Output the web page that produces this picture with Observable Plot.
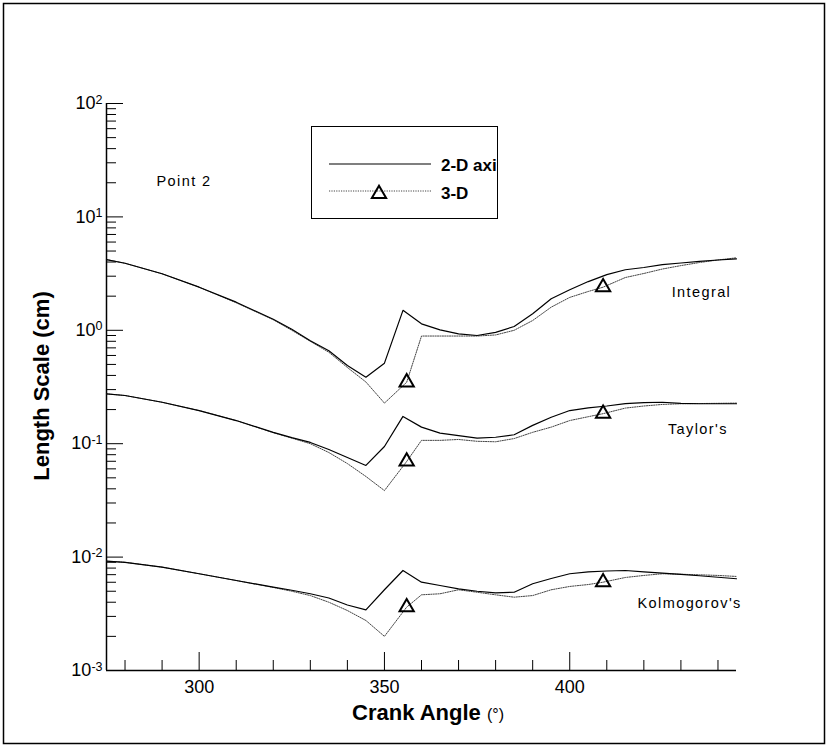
<!DOCTYPE html>
<html><head><meta charset="utf-8">
<script src="https://cdn.jsdelivr.net/npm/d3@7"></script>
<script src="https://cdn.jsdelivr.net/npm/@observablehq/plot@0.6"></script>
<style>
body{margin:0;background:#fff}
#chart{width:828px;height:747px}
</style>
</head><body><div id="chart"></div>
<script>
// ---- data ----
const angles2D = [275,280,290,300,310,320,325,330,335,340,345,350,355,360,365,370,375,380,385,390,395,400,405,410,415,420,425,430,435,440,445];
const angles3D = [275,280,290,300,310,320,325,330,335,340,345,350,356,360,365,370,375,380,385,390,395,400,405,409,415,420,425,430,435,440,445];

const integral2D = [4.2,3.9,3.15,2.40,1.77,1.25,1.02,0.81,0.66,0.49,0.386,0.513,1.50,1.14,1.01,0.93,0.90,0.96,1.08,1.40,1.90,2.28,2.69,3.10,3.42,3.58,3.79,3.92,4.05,4.17,4.27];
const integral3D = [4.2,3.9,3.15,2.40,1.75,1.24,1.0,0.80,0.64,0.47,0.35,0.228,0.348,0.89,0.89,0.89,0.89,0.91,1.00,1.22,1.60,1.95,2.20,2.40,2.92,3.17,3.47,3.72,3.96,4.17,4.36];

const taylor2D = [0.275,0.266,0.232,0.196,0.160,0.126,0.113,0.1026,0.0889,0.0755,0.0643,0.0944,0.174,0.140,0.124,0.118,0.112,0.114,0.120,0.145,0.171,0.196,0.207,0.215,0.226,0.230,0.232,0.227,0.225,0.225,0.225];
const taylor3D = [0.275,0.266,0.232,0.196,0.160,0.125,0.112,0.100,0.0836,0.0668,0.0514,0.0386,0.0697,0.107,0.107,0.109,0.105,0.104,0.111,0.126,0.140,0.160,0.173,0.184,0.206,0.215,0.222,0.225,0.226,0.227,0.228];

const kolmo2D = [0.0092,0.0090,0.00815,0.00713,0.00622,0.00543,0.0051,0.00475,0.00436,0.00378,0.00343,0.00515,0.00762,0.00601,0.00562,0.00525,0.00500,0.00484,0.00490,0.00582,0.00648,0.00713,0.00740,0.00754,0.00762,0.00741,0.00721,0.00703,0.00685,0.00664,0.00644];
const kolmo3D = [0.0092,0.0090,0.00815,0.00713,0.00622,0.00540,0.0050,0.00458,0.00400,0.00338,0.00276,0.00200,0.00362,0.00465,0.00475,0.00515,0.00490,0.00465,0.00443,0.00458,0.00515,0.00551,0.00573,0.00601,0.00661,0.00689,0.00713,0.00706,0.00698,0.00689,0.00675];

const markerAngles = [356, 409];

const xMajorTicks = [300, 350, 400];
const xMinorTicks = [280,290,310,320,330,340,360,370,380,390,410,420,430,440];
const yMajorTicks = [1e-3, 1e-2, 1e-1, 1e0, 1e1, 1e2];

const curveNames = ["Integral", "Taylor's", "Kolmogorov's"];
const labelAngles = [427.5, 426.5, 418.3];
const labelValues = [2.15, 0.133, 0.0039];
const pointLabel = {text: "Point 2", angle: 288.5, value: 20.5};

const legendLabels = ["2-D axi", "3-D"];
const xTitle = "Crank Angle";
const xUnit = "(°)";
const yTitle = "Length Scale (cm)";

// ---- build tables ----
const series2D = [integral2D, taylor2D, kolmo2D];
const series3D = [integral3D, taylor3D, kolmo3D];
const data2D = series2D.flatMap((vals, i) => vals.map((v, j) => ({angle: angles2D[j], value: v, curve: curveNames[i]})));
const data3D = series3D.flatMap((vals, i) => vals.map((v, j) => ({angle: angles3D[j], value: v, curve: curveNames[i]})));
const markers = data3D.filter(d => markerAngles.includes(d.angle));
const yMinorTicks = [];
for (let e = -3; e < 2; e++) for (let m = 2; m <= 9; m++) yMinorTicks.push(m * Math.pow(10, e));
const labels = curveNames.map((n, i) => ({text: n, angle: labelAngles[i], value: labelValues[i]}));
labels.push(pointLabel);

const W = 828, H = 747, mL = 106, mR = 92, mT = 103, mB = 77;
const plotW = W - mL - mR, plotH = H - mT - mB;
const font = "'Liberation Sans', Arial, Helvetica, sans-serif";

const plot = Plot.plot({
  width: W, height: H,
  marginLeft: mL, marginRight: mR, marginTop: mT, marginBottom: mB,
  style: {fontFamily: font, background: "white", color: "black", overflow: "visible"},
  x: {domain: [275, 445]},
  y: {type: "log", domain: [1e-3, 1e2]},
  marks: [
    Plot.axisX({ticks: xMajorTicks, tickSize: 0, tickPadding: 10, fontSize: 18, label: null, tickFormat: d => String(d)}),
    Plot.axisY({ticks: yMajorTicks, tickSize: 0, tickPadding: 4, fontSize: 18, label: null,
      tickFormat: d => "10^" + Math.round(Math.log10(d))}),
    Plot.tickY(yMajorTicks, {y: d => d, insetRight: plotW - 17, stroke: "black", strokeWidth: 1}),
    Plot.tickY(yMinorTicks, {y: d => d, insetRight: plotW - 10, stroke: "black", strokeWidth: 1}),
    Plot.tickX(xMajorTicks, {x: d => d, insetTop: plotH - 18, stroke: "black", strokeWidth: 1}),
    Plot.tickX(xMinorTicks, {x: d => d, insetTop: plotH - 10, stroke: "black", strokeWidth: 1}),
    Plot.ruleX([275], {stroke: "black", strokeWidth: 1.5}),
    Plot.ruleY([1e-3], {stroke: "black", strokeWidth: 1.5}),
    Plot.line(data3D, {x: "angle", y: "value", z: "curve", stroke: "#444", strokeWidth: 1, strokeDasharray: "1.2 1.2"}),
    Plot.line(data2D, {x: "angle", y: "value", z: "curve", stroke: "black", strokeWidth: 1.2}),
    Plot.dot(markers, {x: "angle", y: "value", symbol: "triangle", r: 5.3, stroke: "black", strokeWidth: 2, fill: "none"}),
    Plot.text(labels, {x: "angle", y: "value", text: "text", textAnchor: "start", fontSize: 14.5, fill: "black"})
  ]
});

const svg = d3.select(plot);
// superscript exponents on y tick labels
svg.selectAll('g[aria-label="y-axis tick label"] text').each(function() {
  const t = d3.select(this);
  const s = t.text();
  const exp = s.split("^")[1];
  t.text(null);
  t.append("tspan").text("10");
  t.append("tspan").attr("dy", "-0.45em").attr("font-size", "12.5").text(exp);
});
svg.selectAll('g[aria-label="text"] text').style("letter-spacing", "1.4px");

// outer border
svg.append("rect").attr("x", 3.5).attr("y", 3.5).attr("width", W - 7).attr("height", H - 7)
  .attr("fill", "none").attr("stroke", "black").attr("stroke-width", 1.5);

// axis titles
svg.append("text").attr("x", 428).attr("y", 720).attr("text-anchor", "middle")
  .attr("font-family", font).attr("fill", "black")
  .call(t => {
    t.append("tspan").attr("font-size", 22).attr("font-weight", "bold").text(xTitle + " ");
    t.append("tspan").attr("font-size", 16).text(xUnit);
  });
svg.append("text").attr("transform", "translate(49,386) rotate(-90)").attr("text-anchor", "middle")
  .attr("font-family", font).attr("font-size", 22).attr("font-weight", "bold").attr("fill", "black").text(yTitle);

// legend
const lg = svg.append("g").attr("font-family", font).attr("text-anchor", "start");
lg.append("rect").attr("x", 311.5).attr("y", 126.5).attr("width", 186).attr("height", 92)
  .attr("fill", "white").attr("stroke", "black").attr("stroke-width", 1);
lg.append("line").attr("x1", 329).attr("x2", 431).attr("y1", 164).attr("y2", 164).attr("stroke", "black").attr("stroke-width", 1.2);
lg.append("line").attr("x1", 329).attr("x2", 431).attr("y1", 191).attr("y2", 191).attr("stroke", "#444").attr("stroke-width", 1).attr("stroke-dasharray", "1.2 1.2");
lg.append("path").attr("d", d3.symbol(d3.symbolTriangle, 5.3 * 5.3 * Math.PI)()).attr("transform", "translate(379,194)")
  .attr("fill", "none").attr("stroke", "black").attr("stroke-width", 2);
lg.append("text").attr("x", 441).attr("y", 171).attr("font-size", 17).attr("font-weight", "bold").attr("text-anchor", "start").text(legendLabels[0]);
lg.append("text").attr("x", 441).attr("y", 199).attr("font-size", 17).attr("font-weight", "bold").attr("text-anchor", "start").text(legendLabels[1]);

document.getElementById("chart").appendChild(plot);
</script>
</body></html>
